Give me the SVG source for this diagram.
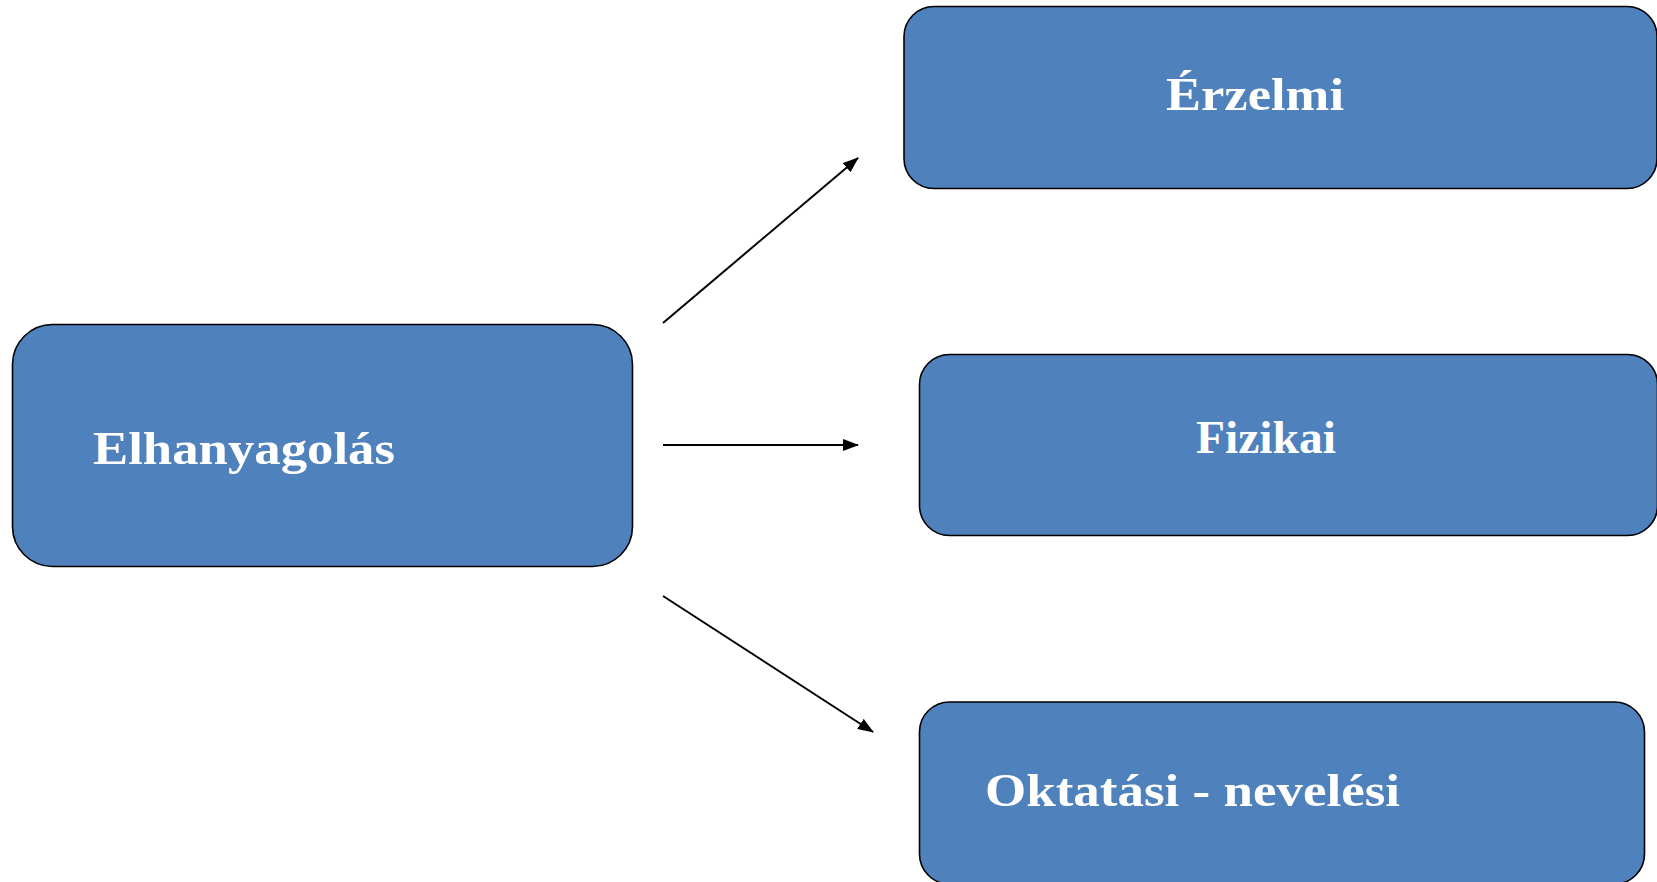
<svg xmlns="http://www.w3.org/2000/svg" width="1657" height="882" viewBox="0 0 1657 882">
<style>
.box{fill:#4F81BD;stroke:#000;stroke-width:1.6}
.lbl{font-family:"Liberation Serif","Times New Roman",serif;font-weight:bold;font-size:47px;fill:#fff}
.con{stroke:#000;stroke-width:2;fill:none;marker-end:url(#ah)}
</style>
<defs>
<marker id="ah" markerWidth="16" markerHeight="12" refX="15" refY="6" orient="auto" markerUnits="userSpaceOnUse">
<path d="M0,0 L16,6 L0,12 Z" fill="#000"/>
</marker>
</defs>
<rect width="1657" height="882" fill="#fff"/>
<g id="connectors">
<line class="con" x1="663" y1="323" x2="858" y2="158"/>
<line class="con" x1="663" y1="445" x2="858" y2="445"/>
<line class="con" x1="663" y1="596" x2="873" y2="732"/>
</g>
<g id="node-elhanyagolas">
<rect class="box" x="12.5" y="324.5" width="620" height="242" rx="40" ry="40"/>
<text class="lbl" x="93" y="464" textLength="302" lengthAdjust="spacingAndGlyphs">Elhanyagolás</text>
</g>
<g id="node-erzelmi">
<rect class="box" x="904" y="6.5" width="753" height="182" rx="30" ry="30"/>
<text class="lbl" x="1166" y="110" textLength="178" lengthAdjust="spacingAndGlyphs">Érzelmi</text>
</g>
<g id="node-fizikai">
<rect class="box" x="919.5" y="354.5" width="738" height="181" rx="30" ry="30"/>
<text class="lbl" x="1196" y="453" textLength="140" lengthAdjust="spacingAndGlyphs">Fizikai</text>
</g>
<g id="node-oktatasi">
<rect class="box" x="919.5" y="702" width="725" height="182" rx="30" ry="30"/>
<text class="lbl" x="985" y="806" textLength="415" lengthAdjust="spacingAndGlyphs">Oktatási - nevelési</text>
</g>
</svg>
